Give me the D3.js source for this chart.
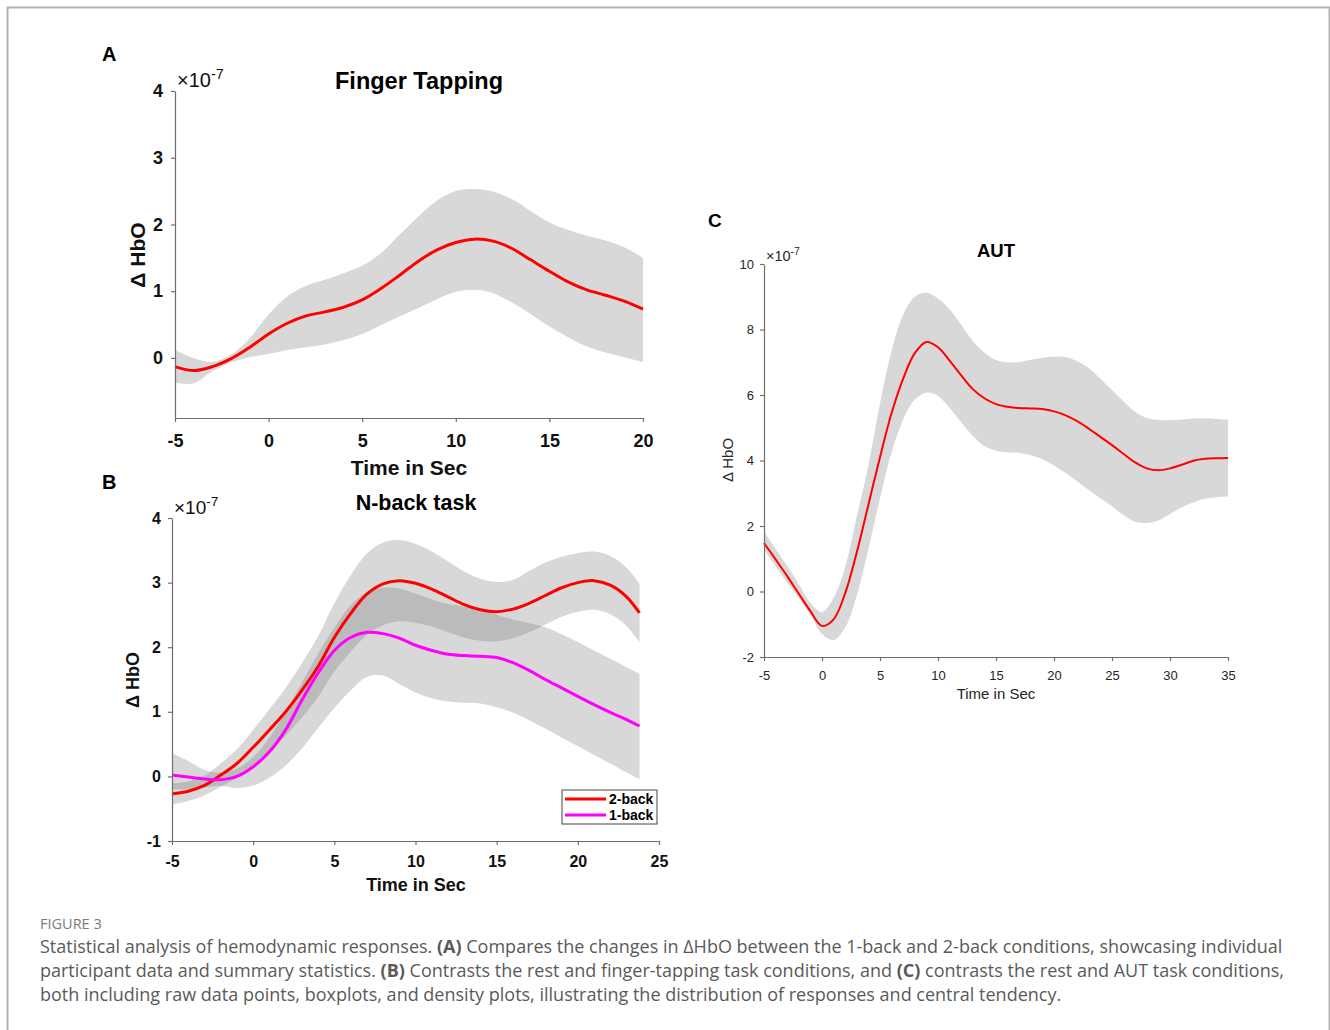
<!DOCTYPE html>
<html>
<head>
<meta charset="utf-8">
<script src="https://cdnjs.cloudflare.com/ajax/libs/d3/7.8.5/d3.min.js"></script>
<style>
  body { margin: 0; background: #fff; }
  svg { display: block; }
</style>
</head>
<body>
<div id="fig"></div>
<script>
'use strict';

// ---- data (ΔHbO, units of 1e-7) ----
var TIME_A = [-5,-4,-3,-2,-1,0,1,2,3,4,5,6,7,8,9,10,11,12,13,14,15,16,17,18,19,20];
var TAP_MEAN = [-0.13,-0.19,-0.13,-0.01,0.16,0.36,0.52,0.63,0.69,0.76,0.87,1.04,1.24,1.45,1.62,1.73,1.78,1.75,1.64,1.47,1.30,1.14,1.02,0.94,0.85,0.73];
var TAP_UP   = [0.12,0.00,-0.06,0.05,0.30,0.65,0.92,1.08,1.17,1.27,1.38,1.57,1.85,2.12,2.36,2.50,2.53,2.49,2.38,2.20,2.03,1.92,1.83,1.76,1.66,1.50];
var TAP_LO   = [-0.37,-0.38,-0.20,-0.07,0.01,0.06,0.12,0.16,0.20,0.27,0.36,0.49,0.62,0.75,0.88,0.99,1.02,0.97,0.83,0.66,0.47,0.31,0.17,0.08,0.01,-0.06];

var TIME_B = [-5,-4,-3,-2,-1,0,1,2,3,4,5,6,7,8,9,10,11,12,13,14,15,16,17,18,19,20,21,22,23,23.8];
var BACK2_MEAN = [-0.27,-0.23,-0.14,0.02,0.20,0.45,0.72,1.00,1.33,1.70,2.15,2.52,2.82,2.98,3.03,2.99,2.90,2.78,2.66,2.58,2.55,2.59,2.68,2.80,2.92,3.00,3.03,2.96,2.78,2.53];
var BACK2_UP   = [-0.11,-0.08,0.01,0.20,0.42,0.72,1.04,1.37,1.75,2.17,2.68,3.11,3.45,3.62,3.66,3.60,3.48,3.33,3.17,3.06,3.01,3.04,3.18,3.31,3.40,3.46,3.48,3.41,3.23,2.98];
var BACK2_LO   = [-0.43,-0.38,-0.29,-0.16,-0.02,0.18,0.40,0.63,0.91,1.23,1.62,1.93,2.19,2.34,2.40,2.38,2.32,2.23,2.15,2.10,2.09,2.14,2.23,2.35,2.47,2.55,2.58,2.51,2.33,2.08];
var BACK1_MEAN = [0.02,-0.01,-0.04,-0.05,0.00,0.15,0.38,0.72,1.18,1.60,1.95,2.15,2.23,2.21,2.14,2.03,1.95,1.89,1.87,1.86,1.84,1.76,1.64,1.50,1.37,1.24,1.11,0.99,0.88,0.78];
var BACK1_UP   = [0.36,0.24,0.10,0.06,0.12,0.30,0.60,1.00,1.45,1.90,2.30,2.65,2.85,2.92,2.91,2.83,2.74,2.67,2.63,2.58,2.50,2.43,2.37,2.31,2.20,2.08,1.95,1.82,1.69,1.59];
var BACK1_LO   = [-0.20,-0.20,-0.17,-0.15,-0.18,-0.14,-0.02,0.17,0.43,0.75,1.06,1.33,1.54,1.56,1.43,1.30,1.21,1.16,1.14,1.13,1.07,0.99,0.87,0.74,0.60,0.47,0.33,0.20,0.06,-0.04];

var TIME_C = [-5,-4,-3,-2,-1,0,1,2,3,4,5,6,7,8,9,10,11,12,13,14,15,16,17,18,19,20,21,22,23,24,25,26,27,28,29,30,31,32,33,34,35];
var AUT_MEAN = [1.48,0.98,0.47,-0.07,-0.60,-1.05,-0.85,-0.05,1.20,2.65,4.10,5.45,6.50,7.28,7.62,7.46,7.05,6.60,6.18,5.90,5.72,5.64,5.60,5.59,5.57,5.50,5.38,5.20,4.97,4.72,4.47,4.20,3.94,3.76,3.70,3.76,3.87,3.99,4.05,4.07,4.08];
var AUT_UP   = [1.84,1.30,0.78,0.22,-0.35,-0.63,-0.20,0.75,2.30,3.85,5.75,7.35,8.45,9.00,9.12,8.95,8.62,8.15,7.65,7.30,7.07,7.00,7.01,7.08,7.14,7.17,7.16,7.03,6.82,6.50,6.15,5.80,5.48,5.30,5.24,5.23,5.25,5.28,5.29,5.27,5.25];
var AUT_LO   = [1.28,0.78,0.27,-0.19,-0.72,-1.30,-1.48,-1.10,-0.12,1.30,2.85,4.25,5.25,5.86,6.07,5.97,5.60,5.17,4.75,4.44,4.30,4.25,4.23,4.16,4.04,3.85,3.62,3.37,3.10,2.85,2.60,2.33,2.13,2.09,2.17,2.37,2.57,2.72,2.83,2.88,2.90];

var TICKS_X_A = [-5,0,5,10,15,20];
var TICKS_Y_A = [0,1,2,3,4];
var TICKS_X_B = [-5,0,5,10,15,20,25];
var TICKS_Y_B = [-1,0,1,2,3,4];
var TICKS_X_C = [-5,0,5,10,15,20,25,30,35];
var TICKS_Y_C = [-2,0,2,4,6,8,10];

var LEGEND_B = ['2-back', '1-back'];

var CAPTION = [
  [['Statistical analysis of hemodynamic responses. ', false], ['(A)', true], [' Compares the changes in \u0394HbO between the 1-back and 2-back conditions, showcasing individual', false]],
  [['participant data and summary statistics. ', false], ['(B)', true], [' Contrasts the rest and finger-tapping task conditions, and ', false], ['(C)', true], [' contrasts the rest and AUT task conditions,', false]],
  [['both including raw data points, boxplots, and density plots, illustrating the distribution of responses and central tendency.', false]]
];

var W = 1330, H = 1030;
var FONT = 'Liberation Sans, Arial, sans-serif';

var svg = d3.select('#fig').append('svg')
    .attr('width', W)
    .attr('height', H);

// frame
svg.append('path')
    .attr('d', 'M7.5,' + H + 'V7.5H1329.5V' + H)
    .attr('fill', 'none')
    .attr('stroke', '#b3b3b3')
    .attr('stroke-width', 2);

function zip(t, a) {
    return t.map(function (d, i) { return [d, a[i]]; });
}

function band(t, lo, up) {
    return t.map(function (d, i) { return {t: d, lo: lo[i], up: up[i]}; });
}

function drawPanel(cfg) {
    var g = svg.append('g');
    var x = d3.scaleLinear().domain(cfg.xDomain).range(cfg.xRange);
    var y = d3.scaleLinear().domain(cfg.yDomain).range(cfg.yRange);

    var area = d3.area()
        .x(function (d) { return x(d.t); })
        .y0(function (d) { return y(d.lo); })
        .y1(function (d) { return y(d.up); })
        .curve(d3.curveCatmullRom.alpha(0.5));

    var line = d3.line()
        .x(function (d) { return x(d[0]); })
        .y(function (d) { return y(d[1]); })
        .curve(d3.curveCatmullRom.alpha(0.5));

    cfg.bands.forEach(function (b) {
        g.append('path')
            .datum(b)
            .attr('d', area)
            .attr('fill', '#646464')
            .attr('fill-opacity', 0.25);
    });

    cfg.lines.forEach(function (l) {
        g.append('path')
            .datum(l.data)
            .attr('d', line)
            .attr('fill', 'none')
            .attr('stroke', l.color)
            .attr('stroke-width', cfg.lineWidth);
    });

    var fmt = function (d) { return String(d); };

    var xAxis = g.append('g')
        .attr('transform', 'translate(0,' + cfg.yRange[0] + ')')
        .call(d3.axisBottom(x).tickValues(cfg.xTicks).tickFormat(fmt).tickSize(4).tickSizeOuter(0).tickPadding(cfg.xPad));
    var yAxis = g.append('g')
        .attr('transform', 'translate(' + cfg.xRange[0] + ',0)')
        .call(d3.axisLeft(y).tickValues(cfg.yTicks).tickFormat(fmt).tickSize(4).tickSizeOuter(0).tickPadding(cfg.yPad));

    [xAxis, yAxis].forEach(function (a) {
        a.select('.domain').attr('stroke', '#6e6e6e').attr('stroke-width', 1.2);
        a.selectAll('.tick line').attr('stroke', '#6e6e6e').attr('stroke-width', 1.2);
        a.selectAll('.tick text')
            .attr('fill', cfg.tickColor)
            .style('font-family', FONT)
            .style('font-size', cfg.tickSize + 'px')
            .style('font-weight', cfg.bold ? 'bold' : 'normal');
    });

    // exponent label
    var ex = g.append('text')
        .attr('x', cfg.xRange[0] + 2)
        .attr('y', cfg.yRange[1] - cfg.expDy)
        .attr('fill', cfg.tickColor)
        .style('font-family', FONT)
        .style('font-size', cfg.expSize + 'px');
    ex.append('tspan').text('\u00d710');
    ex.append('tspan').attr('dy', -cfg.expSize * 0.4).style('font-size', (cfg.expSize * 0.72) + 'px').text('-7');

    g.append('text')
        .attr('x', cfg.titlePos[0]).attr('y', cfg.titlePos[1])
        .attr('text-anchor', 'middle')
        .style('font-family', FONT).style('font-weight', 'bold')
        .style('font-size', cfg.titleSize + 'px')
        .text(cfg.title);

    g.append('text')
        .attr('x', cfg.letterPos[0]).attr('y', cfg.letterPos[1])
        .style('font-family', FONT).style('font-weight', 'bold')
        .style('font-size', cfg.letterSize + 'px')
        .text(cfg.letter);

    g.append('text')
        .attr('x', cfg.xLabelPos[0]).attr('y', cfg.xLabelPos[1])
        .attr('text-anchor', 'middle')
        .attr('fill', cfg.tickColor)
        .style('font-family', FONT).style('font-weight', cfg.bold ? 'bold' : 'normal')
        .style('font-size', cfg.labelSize + 'px')
        .text('Time in Sec');

    g.append('text')
        .attr('transform', 'translate(' + cfg.yLabelPos[0] + ',' + cfg.yLabelPos[1] + ') rotate(-90)')
        .attr('text-anchor', 'middle')
        .attr('fill', cfg.tickColor)
        .style('font-family', FONT).style('font-weight', cfg.bold ? 'bold' : 'normal')
        .style('font-size', cfg.labelSize + 'px')
        .text('\u0394 HbO');

    return {g: g, x: x, y: y};
}

// Panel A
drawPanel({
    xDomain: [-5, 20], xRange: [175, 643],
    yDomain: [-0.9, 4], yRange: [418, 91],
    xTicks: TICKS_X_A, yTicks: TICKS_Y_A,
    bands: [band(TIME_A, TAP_LO, TAP_UP)],
    lines: [{data: zip(TIME_A, TAP_MEAN), color: '#ff0000'}],
    lineWidth: 3,
    bold: true, tickColor: '#111', tickSize: 18, xPad: 12, yPad: 8,
    expSize: 20, expDy: 4,
    title: 'Finger Tapping', titlePos: [419, 89], titleSize: 23.5,
    letter: 'A', letterPos: [102, 61], letterSize: 20,
    xLabelPos: [409, 475], yLabelPos: [145, 255], labelSize: 21
});

// Panel B
var pb = drawPanel({
    xDomain: [-5, 25], xRange: [172, 659],
    yDomain: [-1, 4], yRange: [841, 518],
    xTicks: TICKS_X_B, yTicks: TICKS_Y_B,
    bands: [band(TIME_B, BACK2_LO, BACK2_UP), band(TIME_B, BACK1_LO, BACK1_UP)],
    lines: [{data: zip(TIME_B, BACK2_MEAN), color: '#ff0000'}, {data: zip(TIME_B, BACK1_MEAN), color: '#ff00ff'}],
    lineWidth: 3,
    bold: true, tickColor: '#111', tickSize: 16, xPad: 11, yPad: 7,
    expSize: 19, expDy: 4,
    title: 'N-back task', titlePos: [416, 510], titleSize: 21.5,
    letter: 'B', letterPos: [102, 489], letterSize: 20,
    xLabelPos: [416, 891], yLabelPos: [139, 680], labelSize: 18
});

// legend B
var lg = pb.g.append('g').attr('transform', 'translate(562,790)');
lg.append('rect').attr('width', 95).attr('height', 34)
    .attr('fill', '#fff').attr('stroke', '#444').attr('stroke-width', 1);
LEGEND_B.forEach(function (name, i) {
    var yy = 9 + i * 16;
    lg.append('line').attr('x1', 3).attr('x2', 44).attr('y1', yy).attr('y2', yy)
        .attr('stroke', i === 0 ? '#ff0000' : '#ff00ff').attr('stroke-width', 3);
    lg.append('text').attr('x', 47).attr('y', yy + 5)
        .style('font-family', FONT).style('font-weight', 'bold').style('font-size', '14px')
        .text(name);
});

// Panel C
drawPanel({
    xDomain: [-5, 35], xRange: [764, 1228],
    yDomain: [-2, 10], yRange: [657, 264],
    xTicks: TICKS_X_C, yTicks: TICKS_Y_C,
    bands: [band(TIME_C, AUT_LO, AUT_UP)],
    lines: [{data: zip(TIME_C, AUT_MEAN), color: '#ff0000'}],
    lineWidth: 2,
    bold: false, tickColor: '#262626', tickSize: 13, xPad: 10, yPad: 6,
    expSize: 14.5, expDy: 3,
    title: 'AUT', titlePos: [996, 257], titleSize: 18.5,
    letter: 'C', letterPos: [708, 227], letterSize: 19,
    xLabelPos: [996, 699], yLabelPos: [733, 460], labelSize: 15
});

// caption
svg.append('text')
    .attr('x', 40).attr('y', 929)
    .attr('fill', '#7a7a7a')
    .style('font-family', 'Open Sans, sans-serif')
    .style('font-size', '14.5px')
    .text('FIGURE 3');

CAPTION.forEach(function (parts, i) {
    var t = svg.append('text')
        .attr('x', 40).attr('y', 953 + i * 24)
        .attr('fill', '#5a5a5a')
        .style('font-family', 'Open Sans, sans-serif')
        .style('font-size', '18px');
    parts.forEach(function (p) {
        t.append('tspan').style('font-weight', p[1] ? 'bold' : 'normal').text(p[0]);
    });
});
</script>
</body>
</html>
